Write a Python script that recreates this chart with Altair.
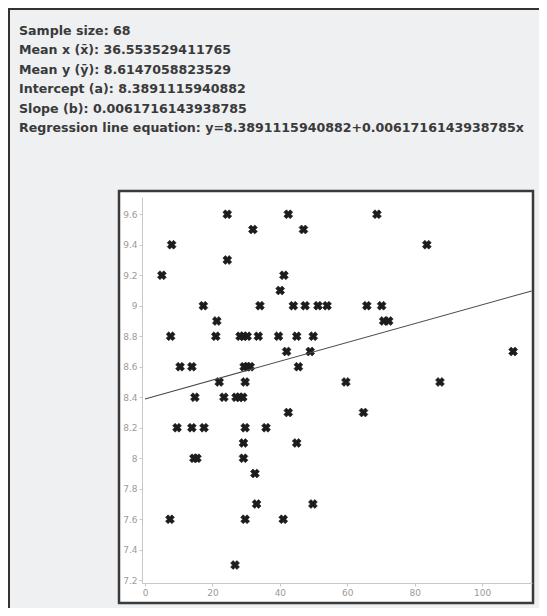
import altair as alt
import pandas as pd

# ---- data ----
xs = [24.4, 42.5, 68.8,
      32.0, 47.0,
      7.9, 83.6,
      24.4,
      5.0, 41.2,
      40.1,
      17.3, 34.1, 44.0, 47.5, 51.3, 54.0, 65.8, 70.2,
      21.3, 70.8, 72.3,
      7.6, 21.0, 28.2, 29.2, 30.3, 33.6, 39.6, 45.0, 49.9,
      42.0, 49.0, 109.2,
      10.4, 13.9, 29.4, 30.3, 31.2, 45.5,
      22.0, 29.7, 59.6, 87.5,
      14.8, 23.4, 27.0, 28.0, 29.0,
      42.5, 64.8,
      9.5, 13.9, 17.5, 29.7, 35.9,
      29.2, 45.0,
      14.5, 15.4, 29.2,
      32.6,
      33.1, 49.8,
      7.4, 29.7, 41.0,
      26.7]
ys = [9.6, 9.6, 9.6,
      9.5, 9.5,
      9.4, 9.4,
      9.3,
      9.2, 9.2,
      9.1,
      9.0, 9.0, 9.0, 9.0, 9.0, 9.0, 9.0, 9.0,
      8.9, 8.9, 8.9,
      8.8, 8.8, 8.8, 8.8, 8.8, 8.8, 8.8, 8.8, 8.8,
      8.7, 8.7, 8.7,
      8.6, 8.6, 8.6, 8.6, 8.6, 8.6,
      8.5, 8.5, 8.5, 8.5,
      8.4, 8.4, 8.4, 8.4, 8.4,
      8.3, 8.3,
      8.2, 8.2, 8.2, 8.2, 8.2,
      8.1, 8.1,
      8.0, 8.0, 8.0,
      7.9,
      7.7, 7.7,
      7.6, 7.6, 7.6,
      7.3]

sample_size = "68"
mean_x = "36.553529411765"
mean_y = "8.6147058823529"
intercept_str = "8.3891115940882"
slope_str = "0.0061716143938785"
intercept = 8.3891115940882
slope = 0.0061716143938785
line_x = [0.0, 114.7]

x_ticks = [0, 20, 40, 60, 80, 100]
y_ticks = [7.2, 7.4, 7.6, 7.8, 8.0, 8.2, 8.4, 8.6, 8.8, 9.0, 9.2, 9.4, 9.6]
x_domain = [-0.9, 114.8]
y_domain = [7.182, 9.713]

info_lines = [
    "Sample size: " + sample_size,
    "Mean x (x\u0304): " + mean_x,
    "Mean y (y\u0304): " + mean_y,
    "Intercept (a): " + intercept_str,
    "Slope (b): " + slope_str,
    "Regression line equation: y=" + intercept_str + "+" + slope_str + "x",
]

pts = pd.DataFrame({"x": xs, "y": ys})
reg = pd.DataFrame({"x": line_x, "y": [intercept + slope * v for v in line_x]})
one = pd.DataFrame({"a": [0]})
info = pd.DataFrame({"t": ["\n".join(info_lines)]})

W, H = 390, 386
PL, PT = 134, 189

xscale = alt.Scale(domain=x_domain, nice=False, zero=False)
yscale = alt.Scale(domain=y_domain, nice=False, zero=False)

axis_common = dict(grid=False, domainColor="#c8c8c8", tickColor="#c8c8c8",
                   tickSize=3, labelColor="#9a9a9a", labelFontSize=9,
                   labelFont="DejaVu Sans", title=None, zindex=1,
                   labelOverlap=False, labelFlush=False, labelPadding=2)
x_axis = alt.Axis(values=x_ticks, **axis_common)
y_axis = alt.Axis(values=y_ticks,
                  labelExpr="toString(round(datum.value*10)/10)",
                  **axis_common)

outer = alt.Chart(one).mark_rect(fill="#eef0f2", stroke="#333333", strokeWidth=2).encode(
    x=alt.value(-PL + 1), x2=alt.value(W + 60),
    y=alt.value(-PT + 1), y2=alt.value(H + 60))

frame = alt.Chart(one).mark_rect(fill="white", stroke="#3a3a3a", strokeWidth=2.5).encode(
    x=alt.value(-23), x2=alt.value(391),
    y=alt.value(-6), y2=alt.value(406))

text = alt.Chart(info).mark_text(align="left", baseline="top", lineBreak="\n",
                                 lineHeight=19.4, fontSize=12.6, font="DejaVu Sans",
                                 fontWeight="bold", color="#3a3a3a").encode(
    text="t:N", x=alt.value(-123), y=alt.value(-172))

points = alt.Chart(pts).mark_point(shape="cross", angle=45, filled=True, size=80,
                                   color="#1c1c1c", opacity=1,
                                   stroke="#1c1c1c", strokeWidth=0.6).encode(
    x=alt.X("x:Q", scale=xscale, axis=x_axis),
    y=alt.Y("y:Q", scale=yscale, axis=y_axis),
)

line = alt.Chart(reg).mark_line(color="#4a4a4a", strokeWidth=1.1).encode(
    x=alt.X("x:Q", scale=xscale, axis=x_axis),
    y=alt.Y("y:Q", scale=yscale, axis=y_axis),
)

chart = alt.layer(outer, frame, text, points, line).properties(
    width=W, height=H,
    autosize=alt.AutoSizeParams(type="none"),
    padding={"left": PL, "top": PT, "right": 7, "bottom": 25},
    background="#eef0f2",
).configure_view(stroke=None).configure_axis(labelOverlap=False)

chart.save("out.html", embed_options={"renderer": "svg", "actions": False})
